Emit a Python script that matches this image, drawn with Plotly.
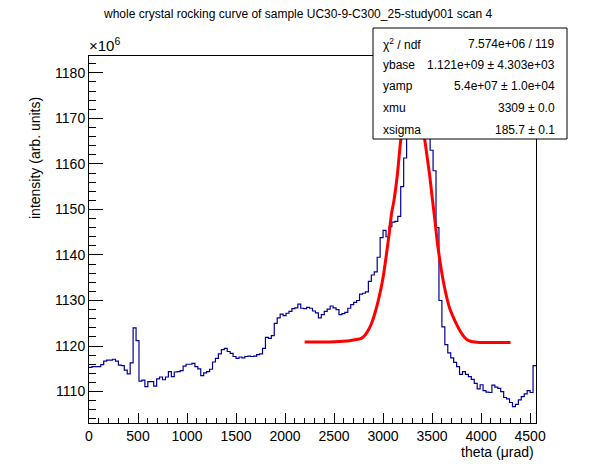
import numpy as np
import plotly.graph_objects as go

# histogram: 30 urad bins from 0 to 4560, intensity in units of 1e6
bin_width = 30
intensity_e6 = [
    1115.3, 1115.5, 1115.5, 1115.5, 1115.9, 1116.7, 1116.9, 1116.9, 1117.1, 1116.7,
    1115.8, 1115.7, 1114.7, 1113.9, 1116.3, 1124.0, 1121.2, 1112.3, 1112.5, 1111.1,
    1112.2, 1112.2, 1111.2, 1112.8, 1113.2, 1112.6, 1113.2, 1114.4, 1113.3, 1114.3,
    1114.4, 1114.6, 1115.6, 1116.0, 1116.0, 1116.2, 1115.5, 1115.0, 1113.5, 1114.1,
    1114.4, 1114.9, 1116.5, 1117.3, 1118.3, 1119.2, 1119.5, 1118.8, 1118.4, 1117.7,
    1117.3, 1117.6, 1117.4, 1117.7, 1117.8, 1117.7, 1117.8, 1118.1, 1118.3, 1119.5,
    1121.9, 1121.7, 1122.3, 1125.0, 1126.2, 1127.0, 1126.7, 1127.2, 1127.6, 1128.2,
    1128.4, 1129.2, 1128.3, 1128.2, 1128.5, 1128.3, 1127.7, 1127.3, 1126.2, 1126.9,
    1127.6, 1128.1, 1128.8, 1128.4, 1128.0, 1126.9, 1127.1, 1127.4, 1128.3, 1129.1,
    1129.6, 1130.0, 1131.4, 1131.6, 1131.9, 1134.2, 1135.6, 1136.3, 1139.5, 1143.8,
    1145.4, 1144.0, 1146.2, 1147.2, 1147.4, 1148.5, 1155.0, 1161.3, 1172.0, 1180.0,
    1186.0, 1188.0, 1186.0, 1181.0, 1175.0, 1169.0, 1163.0, 1158.5, 1146.0, 1130.0,
    1124.2, 1120.3, 1118.5, 1117.4, 1116.4, 1115.5, 1113.8, 1114.4, 1113.8, 1113.3,
    1112.7, 1111.8, 1110.6, 1111.5, 1110.2, 1109.9, 1109.8, 1111.4, 1111.0, 1110.7,
    1110.0, 1108.7, 1108.4, 1107.6, 1106.7, 1107.2, 1108.2, 1108.9, 1109.5, 1110.2,
    1109.8, 1115.7,
]

# fitted curve
fit_theta = [2200, 2450, 2626, 2711, 2779, 2813, 2847, 2881, 2915, 2949, 2983, 3007,
             3034, 3061, 3085, 3112, 3147, 3170, 3181, 3250, 3309, 3370, 3425, 3449,
             3477, 3500, 3528, 3555, 3579, 3613, 3657, 3681, 3715, 3749, 3783, 3817,
             3851, 3902, 3987, 4150, 4300]
fit_e6 = [1120.9, 1120.9, 1121.1, 1121.4, 1121.7, 1122.3, 1123.4, 1124.9, 1127.1,
          1129.8, 1133.1, 1136.0, 1140.1, 1144.5, 1148.9, 1152.1, 1157.9, 1163.1,
          1165.3, 1172.0, 1175.0, 1172.0, 1165.3, 1161.6, 1157.2, 1152.8, 1147.7,
          1142.5, 1138.8, 1134.4, 1130.0, 1128.2, 1126.4, 1124.8, 1123.4, 1122.3,
          1121.5, 1121.0, 1120.8, 1120.8, 1120.8]

stat_names = ["χ<sup>2</sup> / ndf", "ybase", "yamp", "xmu", "xsigma"]
stat_values = ["7.574e+06 / 119", "1.121e+09 ± 4.303e+03", "5.4e+07 ± 1.0e+04",
               "3309 ± 0.0", "185.7 ± 0.1"]

FONT = "Liberation Sans, Arial, sans-serif"

# plot frame in figure pixels
L, R, T, B = 89, 536, 56, 423
W, H = R - L, B - T


def px(x):
    return (x - L) / W


def py(y):
    return (B - y) / H


edges = np.arange(len(intensity_e6) + 1) * bin_width
fig = go.Figure()
fig.add_trace(go.Scatter(
    x=edges,
    y=intensity_e6 + [intensity_e6[-1]],
    mode="lines",
    line=dict(color="#000099", width=1.2, shape="hv"),
    showlegend=False,
))
fig.add_trace(go.Scatter(
    x=fit_theta,
    y=fit_e6,
    mode="lines",
    line=dict(color="#ff0000", width=3, shape="spline", smoothing=0.6),
    showlegend=False,
))

axis_common = dict(
    showgrid=False, zeroline=False, showline=True, mirror=True,
    linecolor="black", linewidth=1, ticks="inside", tickcolor="black",
    tickfont=dict(family=FONT, size=14, color="black"),
)
fig.update_xaxes(range=[0, 4560], dtick=500, tick0=0, ticklen=10,
                 minor=dict(dtick=100, ticks="inside", ticklen=5, tickcolor="black"),
                 **axis_common)
fig.update_yaxes(range=[1103.1, 1183.7], dtick=10, tick0=1100, ticklen=14,
                 minor=dict(dtick=2, ticks="inside", ticklen=7, tickcolor="black"),
                 **axis_common)

# stats box
fig.add_shape(type="rect", xref="paper", yref="paper",
              x0=px(373), x1=px(567), y0=py(139), y1=py(28),
              fillcolor="white", line=dict(color="black", width=1), layer="above")

annotations = []
row_y = [43.5, 65, 86.5, 108, 129.5]
for name, val, yy in zip(stat_names, stat_values, row_y):
    annotations.append(dict(x=px(381), y=py(yy), text=name, xanchor="left",
                            yanchor="middle", font=dict(size=12)))
    annotations.append(dict(x=px(557), y=py(yy), text=val, xanchor="right",
                            yanchor="middle", font=dict(size=12)))

annotations += [
    dict(x=px(298), y=py(14), text="whole crystal rocking curve of sample "
         "UC30-9-C300_25-study001 scan 4", xanchor="center", yanchor="middle",
         font=dict(size=12)),
    dict(x=px(87), y=py(45), text="×10<sup>6</sup>", xanchor="left",
         yanchor="middle", font=dict(size=15)),
    dict(x=px(536), y=py(452), text="theta (μrad)", xanchor="right",
         yanchor="middle", font=dict(size=14)),
    dict(x=px(35), y=py(158), text="intensity (arb. units)", textangle=-90,
         xanchor="center", yanchor="middle", font=dict(size=14)),
]
for a in annotations:
    a.update(xref="paper", yref="paper", showarrow=False)
    a["font"].update(family=FONT, color="black")

fig.update_layout(
    width=596, height=472,
    margin=dict(l=L, r=596 - R, t=T, b=472 - B),
    paper_bgcolor="white", plot_bgcolor="white",
    annotations=annotations,
    font=dict(family=FONT, color="black"),
)

# drop the browser's default page margin so the figure sits at the corner
fig.write_html("out.html", config={"displayModeBar": False},
               post_script="document.body.style.margin = '0';")
